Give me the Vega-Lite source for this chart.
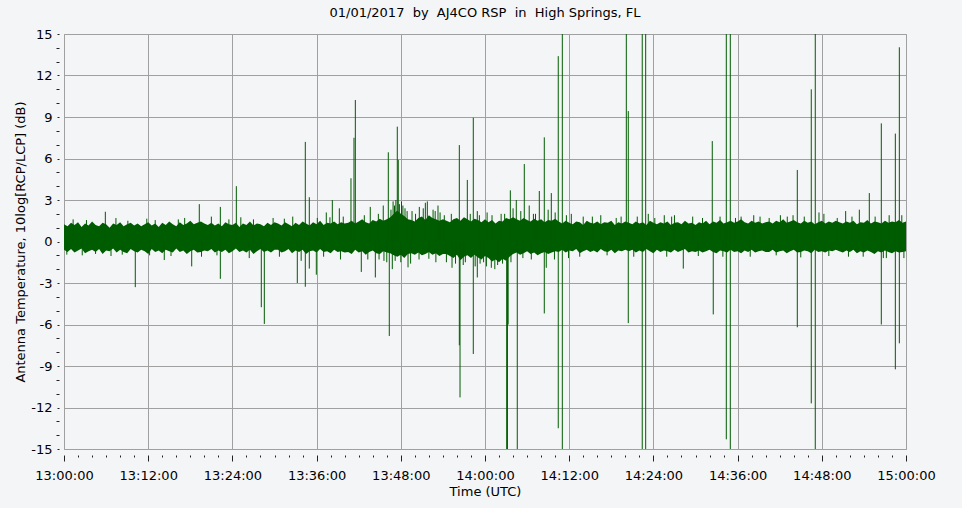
{
"$schema": "https://vega.github.io/schema/vega-lite/v6.json",
"width": 842, "height": 415,
"autosize": {"type": "none"},
"padding": {"left": 64, "top": 34, "right": 56, "bottom": 59},
"background": "#f4f5f7",
"title": {"text": "01/01/2017 \u00a0by \u00a0AJ4CO RSP \u00a0in \u00a0High Springs, FL", "font": "DejaVu Sans", "fontSize": 13, "fontWeight": "normal", "color": "#000000", "offset": 8, "anchor": "middle"},
"config": {
 "view": {"stroke": "#a0a0a0", "fill": "#f4f5f7"},
 "axis": {"labelFont": "DejaVu Sans", "titleFont": "DejaVu Sans", "labelFontSize": 13, "titleFontSize": 13, "labelColor": "#000000", "titleColor": "#000000", "titleFontWeight": "normal", "tickColor": "#222222", "domain": false, "gridColor": "#a0a0a0", "gridOpacity": 1, "gridWidth": 1, "labelFlush": false, "labelOverlap": false, "labelBound": false}
},
"datasets": {
"band": [
{"t":0,"lo":-0.6,"hi":1.25},{"t":0.5,"lo":-0.75,"hi":1.1},{"t":1,"lo":-0.55,"hi":1.35},{"t":1.5,"lo":-0.8,"hi":1.2},{"t":2,"lo":-0.65,"hi":1.4},{"t":2.5,"lo":-0.5,"hi":1.05},{"t":3,"lo":-0.85,"hi":1.3},{"t":3.5,"lo":-0.7,"hi":1.15},{"t":4,"lo":-0.6,"hi":1.45},{"t":4.5,"lo":-0.75,"hi":1.2},{"t":5,"lo":-0.55,"hi":1.1},{"t":5.5,"lo":-0.9,"hi":1.35},{"t":6,"lo":-0.65,"hi":1.25},{"t":6.5,"lo":-0.7,"hi":1.0},{"t":7,"lo":-0.5,"hi":1.3},{"t":7.5,"lo":-0.8,"hi":1.2},{"t":8,"lo":-0.6,"hi":1.4},{"t":8.5,"lo":-0.75,"hi":1.1},{"t":9,"lo":-0.85,"hi":1.25},{"t":9.5,"lo":-0.55,"hi":1.35},{"t":10,"lo":-0.7,"hi":1.15},
{"t":10.5,"lo":-0.8,"hi":1.3},{"t":11,"lo":-0.6,"hi":1.1},{"t":11.5,"lo":-0.7,"hi":1.25},{"t":12,"lo":-0.9,"hi":1.4},{"t":12.5,"lo":-0.55,"hi":1.15},{"t":13,"lo":-0.75,"hi":1.3},{"t":13.5,"lo":-0.65,"hi":1.05},{"t":14,"lo":-0.85,"hi":1.35},{"t":14.5,"lo":-0.6,"hi":1.2},{"t":15,"lo":-0.7,"hi":1.45},{"t":15.5,"lo":-0.8,"hi":1.25},{"t":16,"lo":-0.5,"hi":1.1},{"t":16.5,"lo":-0.75,"hi":1.4},{"t":17,"lo":-0.65,"hi":1.2},{"t":17.5,"lo":-0.9,"hi":1.3},{"t":18,"lo":-0.7,"hi":1.5},{"t":18.5,"lo":-0.6,"hi":1.25},{"t":19,"lo":-0.8,"hi":1.35},{"t":19.5,"lo":-0.75,"hi":1.45},{"t":20,"lo":-0.65,"hi":1.3},
{"t":20.5,"lo":-0.7,"hi":1.2},{"t":21,"lo":-0.55,"hi":1.35},{"t":21.5,"lo":-0.8,"hi":1.15},{"t":22,"lo":-0.65,"hi":1.3},{"t":22.5,"lo":-0.75,"hi":1.1},{"t":23,"lo":-0.6,"hi":1.4},{"t":23.5,"lo":-0.85,"hi":1.25},{"t":24,"lo":-0.7,"hi":1.2},{"t":24.5,"lo":-0.5,"hi":1.35},{"t":25,"lo":-0.75,"hi":1.05},{"t":25.5,"lo":-0.65,"hi":1.3},{"t":26,"lo":-0.8,"hi":1.2},{"t":26.5,"lo":-0.6,"hi":1.45},{"t":27,"lo":-0.9,"hi":1.15},{"t":27.5,"lo":-0.7,"hi":1.3},{"t":28,"lo":-0.55,"hi":1.25},{"t":28.5,"lo":-0.75,"hi":1.1},{"t":29,"lo":-0.65,"hi":1.35},{"t":29.5,"lo":-0.8,"hi":1.2},{"t":30,"lo":-0.6,"hi":1.4},
{"t":30.5,"lo":-0.6,"hi":1.3},{"t":31,"lo":-0.8,"hi":1.15},{"t":31.5,"lo":-0.7,"hi":1.4},{"t":32,"lo":-0.55,"hi":1.25},{"t":32.5,"lo":-0.85,"hi":1.1},{"t":33,"lo":-0.65,"hi":1.35},{"t":33.5,"lo":-0.75,"hi":1.2},{"t":34,"lo":-0.6,"hi":1.45},{"t":34.5,"lo":-0.9,"hi":1.3},{"t":35,"lo":-0.7,"hi":1.15},{"t":35.5,"lo":-0.65,"hi":1.4},{"t":36,"lo":-0.8,"hi":1.25},{"t":36.5,"lo":-0.55,"hi":1.5},{"t":37,"lo":-0.75,"hi":1.2},{"t":37.5,"lo":-0.7,"hi":1.35},{"t":38,"lo":-0.85,"hi":1.3},{"t":38.5,"lo":-0.6,"hi":1.45},{"t":39,"lo":-0.75,"hi":1.25},{"t":39.5,"lo":-0.7,"hi":1.4},{"t":40,"lo":-0.8,"hi":1.3},
{"t":40.5,"lo":-0.75,"hi":1.35},{"t":41,"lo":-0.9,"hi":1.5},{"t":41.5,"lo":-0.6,"hi":1.3},{"t":42,"lo":-0.8,"hi":1.45},{"t":42.5,"lo":-0.7,"hi":1.6},{"t":43,"lo":-0.95,"hi":1.4},{"t":43.5,"lo":-0.75,"hi":1.3},{"t":44,"lo":-0.65,"hi":1.55},{"t":44.5,"lo":-0.85,"hi":1.45},{"t":45,"lo":-0.9,"hi":1.65},{"t":45.5,"lo":-0.7,"hi":1.5},{"t":46,"lo":-0.8,"hi":1.6},
{"t":46.5,"lo":-0.85,"hi":1.75},{"t":47,"lo":-1.0,"hi":2.0},{"t":47.5,"lo":-1.1,"hi":2.25},{"t":48,"lo":-0.95,"hi":2.0},{"t":48.5,"lo":-1.2,"hi":1.85},{"t":49,"lo":-0.9,"hi":1.6},
{"t":49.5,"lo":-0.85,"hi":1.55},{"t":50,"lo":-0.95,"hi":1.45},{"t":50.5,"lo":-0.8,"hi":1.7},{"t":51,"lo":-1.0,"hi":1.8},{"t":51.5,"lo":-0.9,"hi":1.55},{"t":52,"lo":-0.75,"hi":1.9},{"t":52.5,"lo":-0.95,"hi":1.7},{"t":53,"lo":-0.85,"hi":1.6},{"t":53.5,"lo":-1.05,"hi":1.5},{"t":54,"lo":-0.9,"hi":1.6},
{"t":54.5,"lo":-0.9,"hi":1.5},{"t":55,"lo":-1.05,"hi":1.4},{"t":55.5,"lo":-1.2,"hi":1.6},{"t":56,"lo":-0.95,"hi":1.7},{"t":56.5,"lo":-1.35,"hi":1.5},{"t":57,"lo":-1.1,"hi":1.75},{"t":57.5,"lo":-1.0,"hi":1.6},{"t":58,"lo":-1.2,"hi":1.45},{"t":58.5,"lo":-0.95,"hi":1.65},{"t":59,"lo":-1.15,"hi":1.55},{"t":59.5,"lo":-1.3,"hi":1.4},{"t":60,"lo":-1.05,"hi":1.6},
{"t":60.5,"lo":-1.2,"hi":1.4},{"t":61,"lo":-1.45,"hi":1.55},{"t":61.5,"lo":-1.3,"hi":1.3},{"t":62,"lo":-1.5,"hi":1.5},{"t":62.5,"lo":-1.25,"hi":1.45},{"t":63,"lo":-1.4,"hi":1.7},{"t":63.5,"lo":-1.1,"hi":1.6},{"t":64,"lo":-0.9,"hi":1.75},
{"t":64.5,"lo":-0.8,"hi":1.6},{"t":65,"lo":-0.95,"hi":1.5},{"t":65.5,"lo":-0.85,"hi":1.7},{"t":66,"lo":-0.7,"hi":1.55},{"t":66.5,"lo":-0.9,"hi":1.45},{"t":67,"lo":-0.8,"hi":1.65},{"t":67.5,"lo":-1.0,"hi":1.5},{"t":68,"lo":-0.85,"hi":1.6},{"t":68.5,"lo":-0.75,"hi":1.4},{"t":69,"lo":-0.9,"hi":1.55},{"t":69.5,"lo":-0.8,"hi":1.5},{"t":70,"lo":-0.7,"hi":1.65},
{"t":70.5,"lo":-0.75,"hi":1.45},{"t":71,"lo":-0.6,"hi":1.3},{"t":71.5,"lo":-0.8,"hi":1.5},{"t":72,"lo":-0.65,"hi":1.35},{"t":72.5,"lo":-0.7,"hi":1.25},{"t":73,"lo":-0.55,"hi":1.45},{"t":73.5,"lo":-0.85,"hi":1.4},{"t":74,"lo":-0.7,"hi":1.2},{"t":74.5,"lo":-0.6,"hi":1.5},{"t":75,"lo":-0.75,"hi":1.35},{"t":75.5,"lo":-0.65,"hi":1.3},{"t":76,"lo":-0.8,"hi":1.45},{"t":76.5,"lo":-0.55,"hi":1.25},{"t":77,"lo":-0.7,"hi":1.4},{"t":77.5,"lo":-0.75,"hi":1.35},{"t":78,"lo":-0.6,"hi":1.5},{"t":78.5,"lo":-0.85,"hi":1.2},{"t":79,"lo":-0.65,"hi":1.4},{"t":79.5,"lo":-0.7,"hi":1.3},{"t":80,"lo":-0.6,"hi":1.45},
{"t":80.5,"lo":-0.7,"hi":1.35},{"t":81,"lo":-0.6,"hi":1.25},{"t":81.5,"lo":-0.8,"hi":1.45},{"t":82,"lo":-0.65,"hi":1.3},{"t":82.5,"lo":-0.75,"hi":1.4},{"t":83,"lo":-0.55,"hi":1.2},{"t":83.5,"lo":-0.7,"hi":1.5},{"t":84,"lo":-0.85,"hi":1.35},{"t":84.5,"lo":-0.6,"hi":1.25},{"t":85,"lo":-0.75,"hi":1.4},{"t":85.5,"lo":-0.65,"hi":1.3},{"t":86,"lo":-0.7,"hi":1.45},{"t":86.5,"lo":-0.8,"hi":1.2},{"t":87,"lo":-0.6,"hi":1.35},{"t":87.5,"lo":-0.75,"hi":1.4},{"t":88,"lo":-0.65,"hi":1.25},{"t":88.5,"lo":-0.55,"hi":1.5},{"t":89,"lo":-0.8,"hi":1.3},{"t":89.5,"lo":-0.7,"hi":1.35},{"t":90,"lo":-0.75,"hi":1.2},
{"t":90.5,"lo":-0.65,"hi":1.4},{"t":91,"lo":-0.8,"hi":1.3},{"t":91.5,"lo":-0.7,"hi":1.5},{"t":92,"lo":-0.6,"hi":1.25},{"t":92.5,"lo":-0.75,"hi":1.45},{"t":93,"lo":-0.85,"hi":1.35},{"t":93.5,"lo":-0.65,"hi":1.55},{"t":94,"lo":-0.7,"hi":1.3},{"t":94.5,"lo":-0.8,"hi":1.4},{"t":95,"lo":-0.6,"hi":1.5},{"t":95.5,"lo":-0.75,"hi":1.35},{"t":96,"lo":-0.7,"hi":1.45},{"t":96.5,"lo":-0.85,"hi":1.6},{"t":97,"lo":-0.65,"hi":1.4},{"t":97.5,"lo":-0.75,"hi":1.3},{"t":98,"lo":-0.6,"hi":1.5},{"t":98.5,"lo":-0.8,"hi":1.35},{"t":99,"lo":-0.7,"hi":1.45},{"t":99.5,"lo":-0.65,"hi":1.3},{"t":100,"lo":-0.75,"hi":1.4},
{"t":100.5,"lo":-0.75,"hi":1.45},{"t":101,"lo":-0.6,"hi":1.3},{"t":101.5,"lo":-0.8,"hi":1.5},{"t":102,"lo":-0.7,"hi":1.4},{"t":102.5,"lo":-0.65,"hi":1.6},{"t":103,"lo":-0.85,"hi":1.35},{"t":103.5,"lo":-0.7,"hi":1.45},{"t":104,"lo":-0.6,"hi":1.55},{"t":104.5,"lo":-0.8,"hi":1.4},{"t":105,"lo":-0.75,"hi":1.3},{"t":105.5,"lo":-0.65,"hi":1.5},{"t":106,"lo":-0.7,"hi":1.35},{"t":106.5,"lo":-0.85,"hi":1.45},{"t":107,"lo":-0.6,"hi":1.25},{"t":107.5,"lo":-0.75,"hi":1.4},{"t":108,"lo":-0.7,"hi":1.5},{"t":108.5,"lo":-0.8,"hi":1.3},{"t":109,"lo":-0.65,"hi":1.45},{"t":109.5,"lo":-0.7,"hi":1.35},{"t":110,"lo":-0.6,"hi":1.5},
{"t":110.5,"lo":-0.7,"hi":1.4},{"t":111,"lo":-0.8,"hi":1.3},{"t":111.5,"lo":-0.65,"hi":1.45},{"t":112,"lo":-0.75,"hi":1.35},{"t":112.5,"lo":-0.6,"hi":1.5},{"t":113,"lo":-0.85,"hi":1.25},{"t":113.5,"lo":-0.7,"hi":1.4},{"t":114,"lo":-0.8,"hi":1.35},{"t":114.5,"lo":-0.65,"hi":1.55},{"t":115,"lo":-0.75,"hi":1.3},{"t":115.5,"lo":-0.9,"hi":1.45},{"t":116,"lo":-0.7,"hi":1.4},{"t":116.5,"lo":-0.8,"hi":1.3},{"t":117,"lo":-0.65,"hi":1.5},{"t":117.5,"lo":-0.75,"hi":1.35},{"t":118,"lo":-0.85,"hi":1.45},{"t":118.5,"lo":-0.7,"hi":1.4},{"t":119,"lo":-0.8,"hi":1.55},{"t":119.5,"lo":-0.75,"hi":1.35},{"t":120,"lo":-0.7,"hi":1.45}
],
"rules": [
{"t":5.89,"lo":0,"hi":2.15},{"t":10.16,"lo":-3.3,"hi":0},{"t":14.29,"lo":-1.34,"hi":0},{"t":15.25,"lo":-1.05,"hi":0},{"t":16.29,"lo":0,"hi":1.6},{"t":18.2,"lo":-1.8,"hi":0},{"t":19.28,"lo":0,"hi":2.7},{"t":22.28,"lo":-2.7,"hi":2.5},{"t":24.56,"lo":0,"hi":4.0},{"t":28.12,"lo":-4.75,"hi":0},{"t":28.55,"lo":-5.96,"hi":0},{"t":33.25,"lo":-3.0,"hi":0},{"t":34.39,"lo":-3.27,"hi":7.2},{"t":34.96,"lo":-1.96,"hi":3.2},{"t":35.96,"lo":-2.4,"hi":0},{"t":37.38,"lo":0,"hi":2.1},{"t":38.24,"lo":0,"hi":3.0},{"t":39.24,"lo":0,"hi":2.4},{"t":40.9,"lo":0,"hi":4.57},{"t":41.33,"lo":0,"hi":7.5},{"t":41.52,"lo":0,"hi":10.23},{"t":42.37,"lo":-2.2,"hi":0},{"t":43.65,"lo":0,"hi":2.5},{"t":44.37,"lo":-2.6,"hi":0},{"t":45.5,"lo":0,"hi":2.6},{"t":46.22,"lo":0,"hi":6.45},{"t":46.36,"lo":-6.83,"hi":0},{"t":46.79,"lo":-2.0,"hi":0},{"t":47.5,"lo":0,"hi":8.3},{"t":47.64,"lo":0,"hi":5.9},{"t":49.03,"lo":-1.87,"hi":0},{"t":50.64,"lo":0,"hi":2.5},{"t":51.78,"lo":0,"hi":2.9},{"t":56.34,"lo":-7.5,"hi":6.97},{"t":56.44,"lo":-11.27,"hi":0},{"t":57.48,"lo":0,"hi":4.45},{"t":58.33,"lo":-8.13,"hi":8.95},{"t":58.9,"lo":-2.6,"hi":2.2},{"t":63.09,"lo":-15,"hi":0},{"t":63.2,"lo":-15,"hi":0},{"t":63.3,"lo":-6,"hi":0},{"t":63.61,"lo":0,"hi":3.7},{"t":64.46,"lo":0,"hi":3.0},{"t":64.6,"lo":-15,"hi":0},{"t":65.6,"lo":0,"hi":5.6},{"t":66.3,"lo":0,"hi":2.6},{"t":67.74,"lo":0,"hi":3.65},{"t":68.45,"lo":-5.2,"hi":7.53},{"t":68.73,"lo":-1.9,"hi":0},{"t":69.45,"lo":0,"hi":3.5},{"t":70.44,"lo":-13.5,"hi":13.4},{"t":71.02,"lo":-15,"hi":15},{"t":72.3,"lo":0,"hi":2.0},{"t":80.14,"lo":0,"hi":15},{"t":80.42,"lo":-5.9,"hi":9.43},{"t":82.41,"lo":-15,"hi":15},{"t":82.9,"lo":-15,"hi":15},{"t":83.27,"lo":0,"hi":2.0},{"t":85.55,"lo":0,"hi":1.9},{"t":88.26,"lo":-1.96,"hi":0},{"t":92.39,"lo":0,"hi":7.26},{"t":92.53,"lo":-5.27,"hi":0},{"t":94.39,"lo":-14.3,"hi":15},{"t":94.96,"lo":-15,"hi":15},{"t":103.08,"lo":0,"hi":1.8},{"t":104.51,"lo":-6.2,"hi":5.17},{"t":106.5,"lo":-11.7,"hi":11.0},{"t":107.07,"lo":-15,"hi":15},{"t":111.4,"lo":0,"hi":2.2},{"t":113.35,"lo":0,"hi":2.3},{"t":114.77,"lo":0,"hi":3.5},{"t":116.48,"lo":-6.0,"hi":8.54},{"t":116.77,"lo":-1.2,"hi":0},{"t":118.48,"lo":-9.24,"hi":7.8},{"t":119.05,"lo":-7.36,"hi":14.04},
{"t":1.3,"lo":0,"hi":1.6},{"t":3.2,"lo":0,"hi":1.55},{"t":7.4,"lo":0,"hi":1.7},{"t":9.1,"lo":0,"hi":1.5},{"t":11.8,"lo":0,"hi":1.65},{"t":13.0,"lo":0,"hi":1.55},{"t":17.2,"lo":0,"hi":1.7},{"t":21.0,"lo":0,"hi":1.8},{"t":23.5,"lo":0,"hi":1.6},{"t":25.2,"lo":0,"hi":1.75},{"t":27.0,"lo":0,"hi":1.6},{"t":29.8,"lo":0,"hi":1.7},{"t":31.4,"lo":0,"hi":1.65},{"t":32.6,"lo":0,"hi":1.8},{"t":36.1,"lo":0,"hi":1.7},{"t":37.9,"lo":0,"hi":1.75},{"t":39.8,"lo":0,"hi":1.8},{"t":42.8,"lo":0,"hi":1.9},{"t":44.8,"lo":0,"hi":2.0},{"t":48.3,"lo":0,"hi":2.6},{"t":49.6,"lo":0,"hi":2.2},{"t":52.6,"lo":0,"hi":2.3},{"t":53.6,"lo":0,"hi":2.1},{"t":55.2,"lo":0,"hi":2.0},{"t":61.0,"lo":0,"hi":1.9},{"t":62.3,"lo":0,"hi":2.0},{"t":66.9,"lo":0,"hi":2.0},{"t":70.0,"lo":0,"hi":2.1},{"t":74.0,"lo":0,"hi":1.8},{"t":76.5,"lo":0,"hi":1.9},{"t":78.7,"lo":0,"hi":1.7},{"t":81.7,"lo":0,"hi":1.8},{"t":84.2,"lo":0,"hi":1.7},{"t":87.0,"lo":0,"hi":1.9},{"t":89.6,"lo":0,"hi":1.8},{"t":91.0,"lo":0,"hi":1.7},{"t":96.5,"lo":0,"hi":1.8},{"t":98.3,"lo":0,"hi":1.9},{"t":100.5,"lo":0,"hi":1.7},{"t":102.1,"lo":0,"hi":1.9},{"t":105.5,"lo":0,"hi":1.8},{"t":108.3,"lo":0,"hi":2.0},{"t":110.2,"lo":0,"hi":1.7},{"t":112.3,"lo":0,"hi":1.8},{"t":117.6,"lo":0,"hi":1.9},
{"t":46.6,"lo":0,"hi":2.3},{"t":46.9,"lo":0,"hi":2.9},{"t":47.1,"lo":0,"hi":2.6},{"t":47.3,"lo":0,"hi":3.0},{"t":47.8,"lo":0,"hi":2.7},{"t":48.1,"lo":0,"hi":2.9},{"t":48.6,"lo":0,"hi":2.4},{"t":48.9,"lo":0,"hi":2.2},{"t":50.1,"lo":0,"hi":2.0},{"t":51.2,"lo":0,"hi":2.4},{"t":51.5,"lo":0,"hi":2.8},{"t":52.9,"lo":0,"hi":2.2},{"t":53.3,"lo":0,"hi":2.6},{"t":54.2,"lo":0,"hi":1.9},{"t":57.9,"lo":0,"hi":2.0},{"t":59.2,"lo":0,"hi":1.9},{"t":60.3,"lo":0,"hi":2.1},{"t":62.8,"lo":0,"hi":2.0},{"t":64.0,"lo":0,"hi":2.4},{"t":65.1,"lo":0,"hi":2.2},{"t":67.2,"lo":0,"hi":2.0},{"t":69.0,"lo":0,"hi":2.3},{"t":71.6,"lo":0,"hi":1.9},{"t":75.3,"lo":0,"hi":1.8},{"t":79.4,"lo":0,"hi":1.8},{"t":86.6,"lo":0,"hi":1.8},{"t":93.5,"lo":0,"hi":1.8},{"t":95.7,"lo":0,"hi":1.7},{"t":99.2,"lo":0,"hi":1.8},{"t":103.9,"lo":0,"hi":1.9},{"t":107.6,"lo":0,"hi":2.1},{"t":115.6,"lo":0,"hi":1.8},{"t":119.4,"lo":0,"hi":1.9},
{"t":0.4,"lo":-0.95,"hi":0},{"t":2.6,"lo":-1.0,"hi":0},{"t":4.5,"lo":-0.9,"hi":0},{"t":6.7,"lo":-1.05,"hi":0},{"t":8.3,"lo":-0.95,"hi":0},{"t":12.2,"lo":-1.0,"hi":0},{"t":19.6,"lo":-1.1,"hi":0},{"t":21.8,"lo":-1.0,"hi":0},{"t":26.4,"lo":-1.2,"hi":0},{"t":30.7,"lo":-1.1,"hi":0},{"t":33.8,"lo":-1.4,"hi":0},{"t":37.0,"lo":-1.1,"hi":0},{"t":39.4,"lo":-1.3,"hi":0},{"t":43.3,"lo":-1.3,"hi":0},{"t":45.6,"lo":-1.4,"hi":0},{"t":48.0,"lo":-1.5,"hi":0},{"t":50.6,"lo":-1.3,"hi":0},{"t":52.0,"lo":-1.25,"hi":0},{"t":54.5,"lo":-1.5,"hi":0},{"t":55.8,"lo":-1.6,"hi":0},{"t":57.2,"lo":-1.5,"hi":0},{"t":59.8,"lo":-1.5,"hi":0},{"t":60.9,"lo":-1.9,"hi":0},{"t":61.8,"lo":-1.7,"hi":0},{"t":62.5,"lo":-1.6,"hi":0},{"t":65.4,"lo":-1.2,"hi":0},{"t":69.9,"lo":-1.3,"hi":0},{"t":73.5,"lo":-1.1,"hi":0},{"t":77.4,"lo":-1.0,"hi":0},{"t":85.9,"lo":-1.1,"hi":0},{"t":90.4,"lo":-1.05,"hi":0},{"t":97.8,"lo":-1.1,"hi":0},{"t":101.5,"lo":-1.0,"hi":0},{"t":109.0,"lo":-1.05,"hi":0},{"t":113.9,"lo":-1.1,"hi":0},{"t":119.7,"lo":-1.2,"hi":0},
{"t":44.9,"lo":-1.3,"hi":0},{"t":46.0,"lo":-1.5,"hi":0},{"t":47.2,"lo":-1.4,"hi":0},{"t":49.4,"lo":-1.6,"hi":0},{"t":53.0,"lo":-1.5,"hi":0},{"t":55.3,"lo":-1.9,"hi":0},{"t":56.9,"lo":-1.7,"hi":0},{"t":58.6,"lo":-1.8,"hi":0},{"t":59.3,"lo":-1.6,"hi":0},{"t":60.2,"lo":-1.8,"hi":0},{"t":61.4,"lo":-2.0,"hi":0},{"t":63.7,"lo":-1.5,"hi":0},{"t":66.6,"lo":-1.3,"hi":0},{"t":71.9,"lo":-1.2,"hi":0},{"t":81.2,"lo":-1.1,"hi":0},{"t":93.9,"lo":-1.1,"hi":0},{"t":105.0,"lo":-1.15,"hi":0},{"t":111.8,"lo":-1.1,"hi":0},{"t":117.2,"lo":-1.2,"hi":0}
]
},
"layer": [
 {
  "data": {"name": "band"},
  "mark": {"type": "area", "color": "#005c00", "clip": true, "interpolate": "linear"},
  "encoding": {
   "x": {"field": "t", "type": "quantitative",
         "scale": {"domain": [0, 120], "nice": false, "zero": false},
         "axis": {"orient": "bottom", "values": [0,12,24,36,48,60,72,84,96,108,120], "grid": true, "tickSize": 6, "offset": 6, "labelPadding": 8,
                  "labelExpr": "(13+floor(datum.value/60))+':'+(datum.value%60<10?'0':'')+(datum.value%60)+':00'",
                  "title": "Time (UTC)", "titlePadding": 3}},
   "y": {"field": "lo", "type": "quantitative",
         "scale": {"domain": [-15, 15], "nice": false, "zero": false},
         "axis": {"orient": "left", "values": [-15,-12,-9,-6,-3,0,3,6,9,12,15], "grid": true, "tickSize": 2, "offset": 5, "labelPadding": 5,
                  "labelExpr": "toString(datum.value)",
                  "title": "Antenna Temperature, 10log[RCP/LCP] (dB)", "titlePadding": 3}},
   "y2": {"field": "hi"}
  }
 },
 {
  "data": {"name": "rules"},
  "mark": {"type": "rule", "color": "#005c00", "strokeWidth": 1, "clip": true},
  "encoding": {
   "x": {"field": "t", "type": "quantitative",
         "axis": {"orient": "bottom", "values": [2,4,6,8,10,14,16,18,20,22,26,28,30,32,34,38,40,42,44,46,50,52,54,56,58,62,64,66,68,70,74,76,78,80,82,86,88,90,92,94,98,100,102,104,106,110,112,114,116,118], "grid": false, "tickSize": 2, "offset": 6, "labels": false, "title": null}},
   "y": {"field": "lo", "type": "quantitative",
         "axis": {"orient": "left", "values": [-14,-13,-11,-10,-8,-7,-5,-4,-2,-1,1,2,4,5,7,8,10,11,13,14], "grid": false, "tickSize": 3, "offset": 5, "labels": false, "title": null}},
   "y2": {"field": "hi"}
  }
 }
],
"resolve": {"axis": {"x": "independent", "y": "independent"}}
}
